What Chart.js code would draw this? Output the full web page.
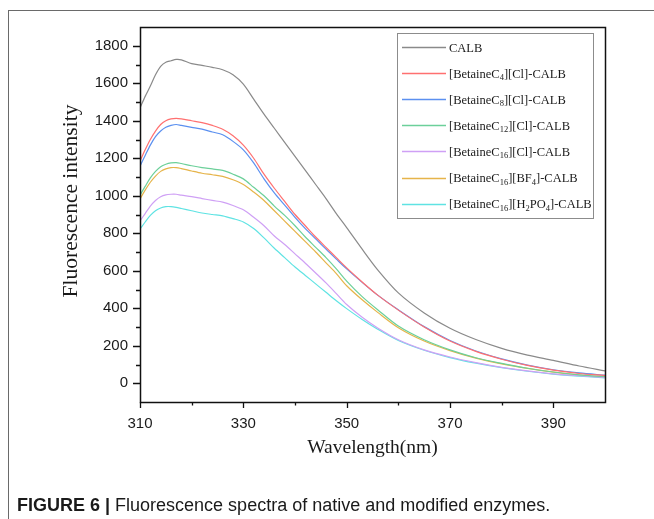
<!DOCTYPE html>
<html><head><meta charset="utf-8">
<script src="https://cdn.jsdelivr.net/npm/chart.js@4"></script>
<style>
html,body{margin:0;padding:0;background:#fff;}
#wrap{position:relative;width:654px;height:519px;overflow:hidden;background:#fff;}
#frame{position:absolute;left:8px;top:10px;width:700px;height:600px;border-left:1.5px solid #6a6a6a;border-top:1.5px solid #6a6a6a;}
canvas{position:absolute;left:0;top:0;}
#cap{position:absolute;left:17px;top:495px;font-family:"Liberation Sans",Arial,sans-serif;font-size:18px;color:#1a1a1a;white-space:nowrap;}
#cap b{font-weight:bold;}
</style></head><body>
<div id="wrap"><div id="frame"></div><canvas id="c" width="654" height="519"></canvas>
<div id="cap"><b>FIGURE 6 |</b> Fluorescence spectra of native and modified enzymes.</div></div>
<script>
const wavelengths = [310,311,312,313,314,315,316,317,318,320,322,324,326,328,330,332,334,336,338,340,342,344,346,348,350,353,356,360,365,370,375,380,385,390,395,400];
const calb      = [1468,1530,1585,1645,1690,1712,1720,1727,1725,1705,1695,1685,1672,1645,1595,1515,1435,1360,1285,1210,1135,1060,985,905,830,715,605,482,375,293,233,186,150,122,92,66];
const c4Cl      = [1185,1245,1300,1345,1380,1400,1410,1413,1410,1400,1390,1375,1355,1320,1270,1200,1115,1040,970,900,840,780,725,670,615,540,470,390,300,225,170,128,95,70,52,41];
const c8Cl      = [1158,1215,1270,1315,1345,1365,1375,1380,1375,1365,1355,1340,1325,1290,1245,1175,1090,1015,950,885,825,770,715,662,610,538,470,392,302,228,172,130,97,72,55,43];
const c12Cl     = [1003,1050,1095,1130,1155,1168,1175,1177,1172,1160,1150,1143,1135,1115,1090,1045,1000,945,895,840,780,725,670,610,545,462,392,305,232,178,136,106,80,60,45,35];
const c16Cl     = [866,905,945,975,995,1005,1008,1008,1003,995,985,975,966,948,925,885,840,785,740,690,640,588,535,478,420,352,295,232,178,140,110,85,66,50,40,31];
const c16BF4    = [983,1030,1072,1105,1130,1143,1150,1150,1145,1132,1120,1112,1103,1085,1060,1020,975,920,865,810,755,700,642,585,520,445,378,296,225,174,134,103,79,59,44,33];
const c16H2PO4  = [822,860,895,920,935,942,942,938,932,920,908,900,893,878,860,825,775,720,670,620,575,530,485,440,398,340,288,228,176,137,107,83,64,49,38,29];

const seriesLabels = ["CALB","[BetaineC_{4}][Cl]-CALB","[BetaineC_{8}][Cl]-CALB","[BetaineC_{12}][Cl]-CALB","[BetaineC_{16}][Cl]-CALB","[BetaineC_{16}][BF_{4}]-CALB","[BetaineC_{16}][H_{2}PO_{4}]-CALB"];
const seriesValues = [calb,c4Cl,c8Cl,c12Cl,c16Cl,c16BF4,c16H2PO4];
const seriesColors = ["#8a8a8a","#ff7070","#5b90f0","#6cd09a","#cfa0f5","#e6b44a","#5fe3e3"];
const xTickLabels = [310,330,350,370,390];
const xMinorTicks = [320,340,360,380];
const yTickLabels = [0,200,400,600,800,1000,1200,1400,1600,1800];
const yMinorTicks = [100,300,500,700,900,1100,1300,1500,1700];
const xTitle = "Wavelength(nm)";
const yTitle = "Fluorescence intensity";

const SANS = '"Liberation Sans", Arial, sans-serif';
const SERIF = '"Liberation Serif", "Times New Roman", serif';

const datasets = seriesValues.map((vals,k)=>({
  label: seriesLabels[k],
  data: wavelengths.map((w,i)=>({x:w,y:vals[i]})),
  borderColor: seriesColors[k],
  backgroundColor: seriesColors[k],
  borderWidth: 1.2,
  pointRadius: 0,
  tension: 0.3,
  fill: false
}));

function parseLabel(s){
  const parts=[]; const re=/_\{([^}]*)\}/g; let last=0,m;
  while((m=re.exec(s))){ if(m.index>last) parts.push({t:s.slice(last,m.index),sub:false}); parts.push({t:m[1],sub:true}); last=re.lastIndex; }
  if(last<s.length) parts.push({t:s.slice(last),sub:false});
  return parts;
}

const decor = {
  id:'decor',
  afterDraw(chart){
    const ctx=chart.ctx, a=chart.chartArea, xs=chart.scales.x, ys=chart.scales.y;
    ctx.save();
    ctx.strokeStyle='#111'; ctx.lineWidth=1.5;
    ctx.strokeRect(Math.round(a.left)+0.5, Math.round(a.top)+0.5, Math.round(a.right-a.left), Math.round(a.bottom-a.top));
    ctx.lineWidth=1.3;
    ctx.beginPath();
    xTickLabels.forEach(v=>{const p=Math.round(xs.getPixelForValue(v))+0.5; ctx.moveTo(p,a.bottom); ctx.lineTo(p,a.bottom+6);});
    xMinorTicks.forEach(v=>{const p=Math.round(xs.getPixelForValue(v))+0.5; ctx.moveTo(p,a.bottom); ctx.lineTo(p,a.bottom+3.5);});
    yTickLabels.forEach(v=>{const p=Math.round(ys.getPixelForValue(v))+0.5; ctx.moveTo(a.left,p); ctx.lineTo(a.left-7,p);});
    yMinorTicks.forEach(v=>{const p=Math.round(ys.getPixelForValue(v))+0.5; ctx.moveTo(a.left,p); ctx.lineTo(a.left-4,p);});
    ctx.stroke();
    ctx.fillStyle='#1a1a1a';
    ctx.textAlign='center'; ctx.textBaseline='alphabetic';
    ctx.font='19.5px '+SERIF;
    ctx.fillText(xTitle,(a.left+a.right)/2,453);
    ctx.font='21.5px '+SERIF;
    ctx.save(); ctx.translate(77,201); ctx.rotate(-Math.PI/2); ctx.fillText(yTitle,0,0); ctx.restore();
    const lx=397.5, ly=33.5, lw=196, lh=185;
    ctx.strokeStyle='#8c8c8c'; ctx.lineWidth=1;
    ctx.strokeRect(lx,ly,lw,lh);
    ctx.textAlign='left';
    seriesLabels.forEach((lab,i)=>{
      const y=47+i*26.1;
      ctx.strokeStyle=seriesColors[i]; ctx.lineWidth=1.3;
      ctx.beginPath(); ctx.moveTo(402,Math.round(y)+0.5); ctx.lineTo(446,Math.round(y)+0.5); ctx.stroke();
      let x=449;
      parseLabel(lab).forEach(p=>{
        if(p.sub){ ctx.font='8.5px '+SERIF; ctx.fillText(p.t,x,y+7); }
        else { ctx.font='12.5px '+SERIF; ctx.fillText(p.t,x,y+4.5); }
        x+=ctx.measureText(p.t).width;
      });
    });
    ctx.restore();
  }
};

new Chart(document.getElementById('c'),{
  type:'line',
  data:{datasets},
  options:{
    responsive:false, animation:false,
    layout:{padding:{left:0,top:27,right:49,bottom:0}},
    plugins:{legend:{display:false},tooltip:{enabled:false}},
    scales:{
      x:{type:'linear',min:310,max:400,
        afterBuildTicks:s=>{s.ticks=xTickLabels.map(v=>({value:v}));},
        afterFit:s=>{s.height=117;},
        grid:{display:false,drawTicks:false}, border:{display:false},
        ticks:{padding:13,color:'#1a1a1a',font:{family:SANS,size:15},maxRotation:0,autoSkip:false,callback:v=>String(v)}},
      y:{type:'linear',min:-100,max:1900,
        afterBuildTicks:s=>{s.ticks=yTickLabels.map(v=>({value:v}));},
        afterFit:s=>{s.width=140;},
        grid:{display:false,drawTicks:false}, border:{display:false},
        ticks:{padding:12,color:'#1a1a1a',font:{family:SANS,size:15},autoSkip:false,callback:v=>String(v)}}
    }
  },
  plugins:[decor]
});
</script>
</body></html>
